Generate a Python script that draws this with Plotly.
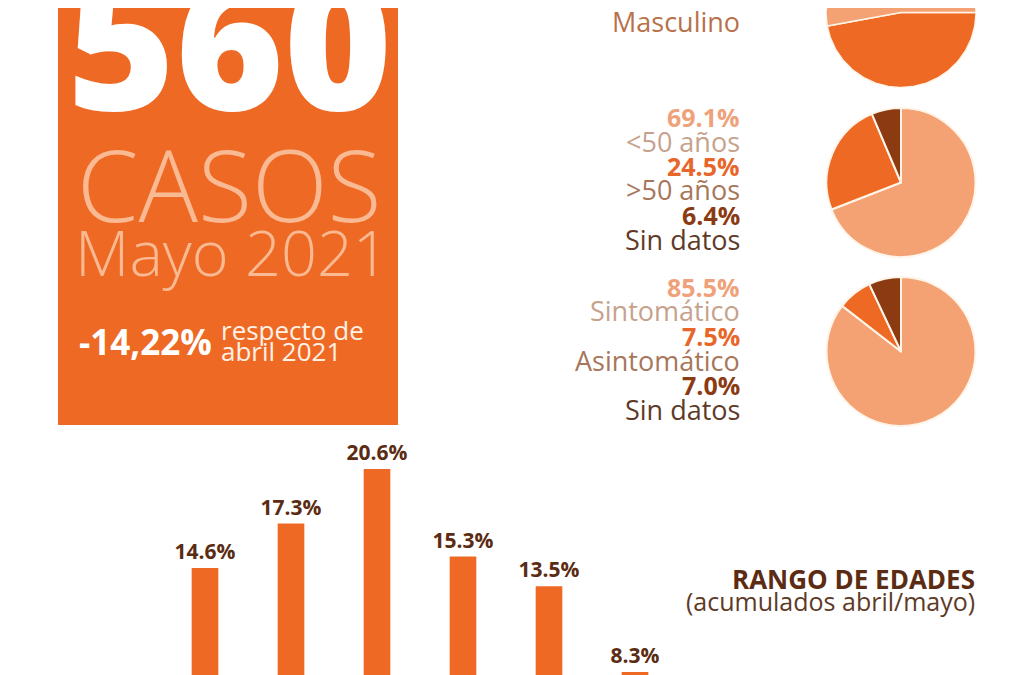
import numpy as np
import plotly.graph_objects as go

# the page body adds an 8px margin, so the figure starts at (8, 8) in the window
OFF = 8
W, H = 1035 - OFF, 675 - OFF

# ---- data ----
casos_total = "560"
casos_mes = "Mayo 2021"
variacion = "-14,22%"
variacion_texto = ["respecto de", "abril 2021"]

sexo_labels = ["Masculino", "Femenino"]
sexo_values = [47.1, 52.9]

edad_labels = ["<50 años", ">50 años", "Sin datos"]
edad_values = [69.1, 24.5, 6.4]

sintomas_labels = ["Sintomático", "Asintomático", "Sin datos"]
sintomas_values = [85.5, 7.5, 7.0]

rango_labels = ["0-19", "20-29", "30-39", "40-49", "50-59", "60-69"]
rango_values = [14.6, 17.3, 20.6, 15.3, 13.5, 8.3]

# ---- styles ----
ORANGE = "#EE6A24"
LIGHT = "#F4A173"
DARK = "#8C3A11"
PEACH = "#F9B992"
BROWN = "#5B2C13"
FONT = "Open Sans"
slice_colors = [LIGHT, ORANGE, DARK]
pct_colors = ["#EFA27A", "#E8662A", "#8B3A12"]
lbl_colors = ["#C6A28D", "#A8765A", "#5E3A27"]


def px(x):
    return (x - OFF) / W


def py(y):
    return 1 - (y - OFF) / H


fig = go.Figure()

# bar chart: rango de edades (16.5 px per percentage point, zero line at y=809)
fig.add_trace(go.Bar(
    x=rango_labels,
    y=rango_values,
    width=0.31,
    marker=dict(color=ORANGE, line=dict(width=0)),
    texttemplate="%{y:.1f}%",
    textposition="outside",
    constraintext="none",
    cliponaxis=False,
    textfont=dict(family=FONT, size=21, color=BROWN, weight=700),
    hoverinfo="skip",
))

# top pie (cut by the page edge): wedges from the values on their own axis
start = 0.0
for lab, val, col in zip(sexo_labels, sexo_values, [ORANGE, LIGHT]):
    span = val / sum(sexo_values) * 360
    t = np.radians(np.linspace(start, start - span, 120))
    fig.add_trace(go.Scatter(
        x=np.concatenate([[0], np.cos(t), [0]]),
        y=np.concatenate([[0], np.sin(t), [0]]),
        mode="lines", fill="toself", fillcolor=col,
        line=dict(color="#FFF4E8", width=1.5),
        xaxis="x2", yaxis="y2", name=lab, hoverinfo="name",
    ))
    start -= span

# pies 2 and 3
for vals, labs, y0, y1 in [(edad_values, edad_labels, 257, 108),
                           (sintomas_values, sintomas_labels, 426, 277)]:
    fig.add_trace(go.Pie(
        values=vals, labels=labs, sort=False, direction="clockwise", rotation=0,
        textinfo="none", marker=dict(colors=slice_colors, line=dict(color="#FFF4E8", width=2)),
        domain=dict(x=[px(826), px(976)], y=[py(y0), py(y1)]),
    ))

ann = []


def text(x, y, s, size, color, anchor="right", weight=400):
    ann.append(dict(x=px(x), y=py(y), xref="paper", yref="paper", text=s,
                    showarrow=False, xanchor=anchor, yanchor="middle",
                    font=dict(family=FONT, size=size, color=color, weight=weight)))


# left box texts
text(229, 38, casos_total, 185, "white", "center", 800)
text(229, 183, "CASOS", 99, PEACH, "center", 300)
text(232, 251, casos_mes, 63, PEACH, "center", 300)
text(77, 341, variacion, 35, "white", "left", 700)
text(219, 330, variacion_texto[0], 26, "#FFF1E6", "left", 400)
text(219, 351, variacion_texto[1], 26, "#FFF1E6", "left", 400)

# pie labels
text(742, -2, f"{sexo_values[0]}%", 25, "#E0722F", weight=700)
text(742, 21, sexo_labels[0], 27, "#B8714A")
for i in range(3):
    text(742, 117 + 49 * i, f"{edad_values[i]}%", 25, pct_colors[i], weight=700)
    text(742, 141 + 49 * i, edad_labels[i], 27, lbl_colors[i])
    text(742, 287 + 49 * i, f"{sintomas_values[i]}%", 25, pct_colors[i], weight=700)
    text(742, 311 + 49 * i, sintomas_labels[i], 27, lbl_colors[i])

text(977, 579, "RANGO DE EDADES", 26, BROWN, weight=700)
text(977, 601, "(acumulados abril/mayo)", 25, "#5E3A27")

shapes = [
    dict(type="rect", xref="paper", yref="paper", x0=px(58), x1=px(398), y0=py(425), y1=1.02,
         fillcolor=ORANGE, line=dict(width=0), layer="below"),
    dict(type="line", xref="paper", yref="paper", x0=px(1033), x1=px(1033), y0=-0.02, y1=1.02,
         line=dict(color="#888888", width=2)),
]

fig.update_layout(
    width=W, height=H,
    margin=dict(l=0, r=0, t=0, b=0),
    paper_bgcolor="white", plot_bgcolor="rgba(0,0,0,0)",
    showlegend=False,
    annotations=ann,
    shapes=shapes,
    xaxis=dict(domain=[px(162), px(678)], range=[-0.5, 5.5], visible=False, fixedrange=True),
    yaxis=dict(domain=[0, 1], range=[(809 - 675) / 16.5, (809 - OFF) / 16.5],
               visible=False, fixedrange=True),
    xaxis2=dict(domain=[px(826), px(976)], range=[-1, 1], visible=False, anchor="y2"),
    yaxis2=dict(domain=[py(88), 1], range=[-(88 - 12.5) / 75, (12.5 - OFF) / 75],
                visible=False, anchor="x2"),
)

fig.write_html("out.html")
